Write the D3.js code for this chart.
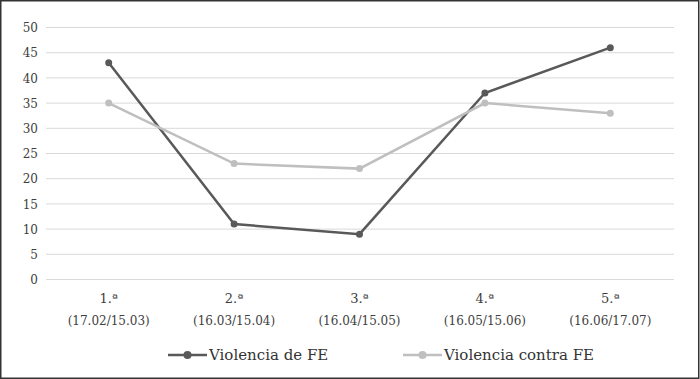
<!DOCTYPE html>
<html><head><meta charset="utf-8">
<script src="https://cdn.jsdelivr.net/npm/d3@7"></script>
<style>body{margin:0;background:#fff}svg{display:block}</style>
</head><body><div id="c"></div>
<script>
const categories = ["1.ª|(17.02/15.03)", "2.ª|(16.03/15.04)", "3.ª|(16.04/15.05)", "4.ª|(16.05/15.06)", "5.ª|(16.06/17.07)"];
const seriesNames = ["Violencia de FE", "Violencia contra FE"];
const violenciaDeFE = [43, 11, 9, 37, 46];
const violenciaContraFE = [35, 23, 22, 35, 33];
const yTicks = [0, 5, 10, 15, 20, 25, 30, 35, 40, 45, 50];
const colors = ["#595959", "#bfbfbf"];

const FONT = "'DejaVu Serif', 'Liberation Serif', serif";
const W = 700, H = 379;
const svg = d3.select("#c").append("svg").attr("width", W).attr("height", H)
  .style("font-family", FONT);
svg.append("rect").attr("x", 0.75).attr("y", 0.75).attr("width", W - 2).attr("height", H - 1.5)
  .attr("fill", "#fff").attr("stroke", "#333").attr("stroke-width", 1.5);

const x = d3.scaleBand().domain(categories).range([46, 673]);
const y = d3.scaleLinear().domain([0, 50]).range([279.5, 27.5]);

svg.append("g").selectAll("line").data(yTicks).join("line")
  .attr("x1", 46).attr("x2", 674).attr("y1", d => y(d)).attr("y2", d => y(d))
  .attr("stroke", "#d9d9d9").attr("stroke-width", 1);

const yAxis = d3.axisLeft(y).tickValues(yTicks).tickSize(0).tickPadding(0);
const ya = svg.append("g").attr("transform", "translate(38,0)").call(yAxis)
  .style("font-family", FONT).style("font-size", "12px");
ya.select(".domain").remove();
ya.selectAll("text").attr("fill", "#404040").attr("dy", "0.35em");

const xa = svg.append("g").attr("transform", "translate(0,280)").call(d3.axisBottom(x).tickSize(0).tickFormat(""))
  .style("font-family", FONT).style("font-size", "12px");
xa.select(".domain").remove();
xa.selectAll(".tick").each(function(d) {
  const parts = d.split("|");
  const t = d3.select(this);
  t.append("text").attr("y", 23).attr("text-anchor", "middle").attr("fill", "#404040").style("font-size", "13px").text(parts[0]);
  t.append("text").attr("y", 45).attr("text-anchor", "middle").attr("fill", "#404040").text(parts[1]);
});

const cx = d => x(d) + x.bandwidth() / 2;
[violenciaDeFE, violenciaContraFE].forEach((vals, i) => {
  const data = categories.map((c, j) => ({c, v: vals[j]}));
  const s = svg.append("g");
  s.append("path").datum(data).attr("fill", "none").attr("stroke", colors[i]).attr("stroke-width", 2.5)
    .attr("d", d3.line().x(d => cx(d.c)).y(d => y(d.v)));
  s.selectAll("circle").data(data).join("circle").attr("cx", d => cx(d.c)).attr("cy", d => y(d.v))
    .attr("r", 3.5).attr("fill", colors[i]);
});

const legX = [168, 403];
seriesNames.forEach((n, i) => {
  const lg = svg.append("g").attr("transform", `translate(${legX[i]},355)`);
  lg.append("line").attr("x1", 0).attr("x2", 39).attr("stroke", colors[i]).attr("stroke-width", 2.5);
  lg.append("circle").attr("cx", 19.5).attr("r", 4).attr("fill", colors[i]);
  lg.append("text").attr("x", 41).attr("dy", "0.35em").style("font-size", "15px").attr("fill", "#333").text(n);
});
</script></body></html>
